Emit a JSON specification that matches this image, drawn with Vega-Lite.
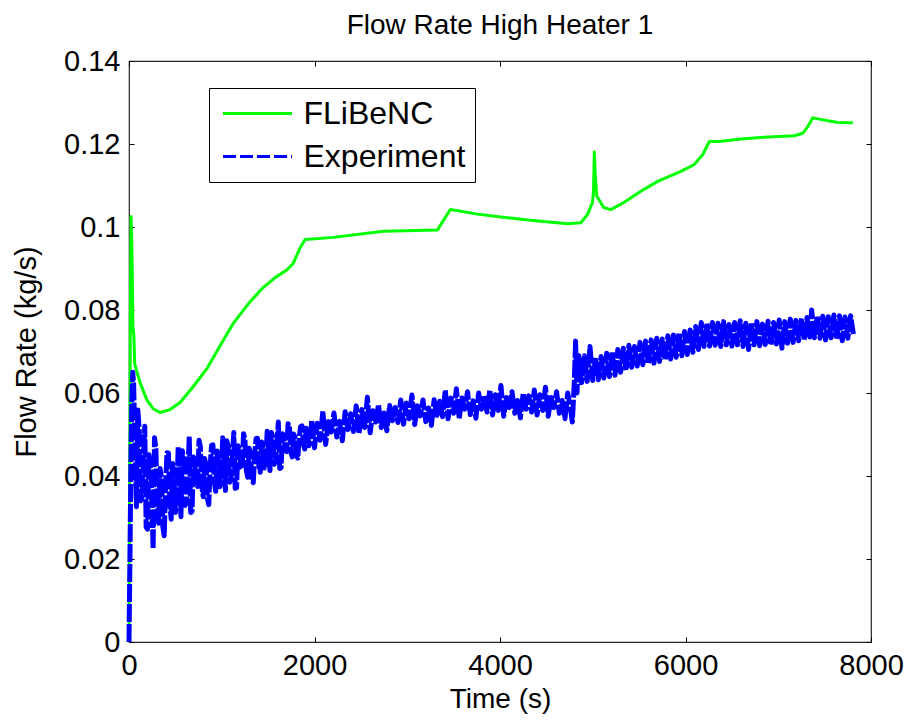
{
  "$schema": "https://vega.github.io/schema/vega-lite/v6.json",
  "width": 742,
  "height": 581,
  "autosize": {"type": "none"},
  "padding": {"left": 129, "top": 61, "right": 40, "bottom": 81},
  "background": "white",
  "title": {"text": "Flow Rate High Heater 1", "font": "Liberation Sans", "fontSize": 28, "fontWeight": "normal", "color": "black", "anchor": "middle", "baseline": "alphabetic", "offset": 23, "dy": 38},
  "config": {
    "view": {"stroke": "#262626", "strokeWidth": 1.2},
    "axis": {"labelFont": "Liberation Sans", "titleFont": "Liberation Sans", "labelColor": "black", "titleColor": "black", "tickColor": "black", "tickWidth": 1, "domain": false, "grid": false, "titleFontWeight": "normal", "labelFlush": false, "labelOverlap": false},
    "legend": {"orient": "none", "legendX": 80, "legendY": 27, "strokeColor": "black", "fillColor": "white", "padding": 9, "symbolType": "M-1,0H3.6", "symbolSize": 900, "symbolStrokeWidth": 3, "symbolOffset": 3.5, "labelOffset": 49, "rowPadding": 10, "labelFont": "Liberation Sans", "labelFontSize": 32, "labelColor": "black", "labelLimit": 400}
  },
  "resolve": {"axis": {"x": "independent", "y": "independent"}},
  "layer": [
    {
      "data": {"values": [
        {"t":0,"v":0},{"t":8,"v":0.04},{"t":15,"v":0.08},{"t":22,"v":0.1025},{"t":28,"v":0.098},{"t":35,"v":0.09},{"t":42,"v":0.076},{"t":52,"v":0.074},{"t":62,"v":0.067},{"t":80,"v":0.0655},{"t":119,"v":0.0625},{"t":191,"v":0.0584},{"t":262,"v":0.0562},{"t":335,"v":0.0553},{"t":443,"v":0.056},{"t":551,"v":0.0577},{"t":691,"v":0.0615},{"t":838,"v":0.0658},{"t":982,"v":0.0714},{"t":1122,"v":0.0767},{"t":1305,"v":0.082},{"t":1446,"v":0.0854},{"t":1575,"v":0.0878},{"t":1705,"v":0.0897},{"t":1770,"v":0.0912},{"t":1845,"v":0.095},{"t":1899,"v":0.097},{"t":2203,"v":0.0975},{"t":2743,"v":0.099},{"t":3326,"v":0.0993},{"t":3464,"v":0.1042},{"t":3575,"v":0.1038},{"t":3758,"v":0.1031},{"t":4006,"v":0.1024},{"t":4331,"v":0.1016},{"t":4727,"v":0.1008},{"t":4871,"v":0.101},{"t":4943,"v":0.103},{"t":4997,"v":0.1059},{"t":5008,"v":0.1085},{"t":5017,"v":0.1181},{"t":5028,"v":0.112},{"t":5044,"v":0.1074},{"t":5119,"v":0.1047},{"t":5195,"v":0.1042},{"t":5335,"v":0.1059},{"t":5519,"v":0.1086},{"t":5699,"v":0.111},{"t":5951,"v":0.1134},{"t":6091,"v":0.115},{"t":6185,"v":0.1174},{"t":6257,"v":0.1206},{"t":6361,"v":0.1206},{"t":6599,"v":0.1212},{"t":6847,"v":0.1216},{"t":7171,"v":0.122},{"t":7265,"v":0.1226},{"t":7319,"v":0.1242},{"t":7373,"v":0.1263},{"t":7441,"v":0.126},{"t":7535,"v":0.1256},{"t":7643,"v":0.1252},{"t":7805,"v":0.1251}
      ]},
      "mark": {"type": "line", "strokeWidth": 3, "strokeJoin": "round"},
      "encoding": {
        "x": {"field": "t", "type": "quantitative", "scale": {"domain": [0, 8000], "nice": false, "zero": false},
              "axis": {"orient": "bottom", "values": [0, 2000, 4000, 6000, 8000], "format": "d", "title": "Time (s)", "tickSize": -5, "labelPadding": 14, "titlePadding": 5, "labelFontSize": 29, "titleFontSize": 28}},
        "y": {"field": "v", "type": "quantitative", "scale": {"domain": [0, 0.14], "nice": false},
              "axis": {"orient": "left", "values": [0, 0.02, 0.04, 0.06, 0.08, 0.1, 0.12, 0.14], "format": ".2~f", "title": "Flow Rate (kg/s)", "tickSize": -5, "labelPadding": 14, "titlePadding": 22, "labelFontSize": 29, "titleFontSize": 29}},
        "color": {"datum": "FLiBeNC", "type": "nominal", "scale": {"domain": ["FLiBeNC", "Experiment"], "range": ["#00ff00", "#0000ff"]},
                  "legend": {"title": null, "encode": {"symbols": {"update": {"strokeDash": {"signal": "datum.value === 'Experiment' ? [13, 4] : [1, 0]"}}}}}}
      }
    },
    {
      "data": {"values": [
        {"t":0,"v":0},{"t":10,"v":0.02},{"t":20,"v":0.042},{"t":30,"v":0.058},{"t":40,"v":0.065},
        {"t":50,"v":0.0623},{"t":80,"v":0.0326},{"t":110,"v":0.0514},{"t":140,"v":0.0348},{"t":170,"v":0.052},{"t":200,"v":0.0272},{"t":230,"v":0.0425},{"t":260,"v":0.0225},{"t":290,"v":0.0466},{"t":320,"v":0.0286},{"t":350,"v":0.0395},{"t":380,"v":0.0256},{"t":410,"v":0.0456},{"t":440,"v":0.0331},{"t":470,"v":0.043},{"t":500,"v":0.0312},{"t":530,"v":0.047},{"t":560,"v":0.0302},{"t":590,"v":0.0442},{"t":620,"v":0.0341},{"t":650,"v":0.0495},{"t":680,"v":0.0315},{"t":710,"v":0.043},{"t":740,"v":0.0375},{"t":770,"v":0.047},{"t":800,"v":0.035},{"t":830,"v":0.0427},{"t":860,"v":0.0331},{"t":890,"v":0.0474},{"t":920,"v":0.0386},{"t":950,"v":0.046},{"t":980,"v":0.0374},{"t":1010,"v":0.0492},{"t":1040,"v":0.0365},{"t":1070,"v":0.0471},{"t":1100,"v":0.0393},{"t":1130,"v":0.0505},{"t":1160,"v":0.0372},{"t":1190,"v":0.0461},{"t":1220,"v":0.0417},{"t":1250,"v":0.0489},{"t":1280,"v":0.0397},{"t":1310,"v":0.0455},{"t":1340,"v":0.0384},{"t":1370,"v":0.049},{"t":1400,"v":0.0426},{"t":1430,"v":0.0482},{"t":1460,"v":0.0419},{"t":1490,"v":0.0508},{"t":1520,"v":0.0413},{"t":1550,"v":0.0495},{"t":1580,"v":0.0436},{"t":1610,"v":0.053},{"t":1640,"v":0.042},{"t":1670,"v":0.0493},{"t":1700,"v":0.0459},{"t":1730,"v":0.0517},{"t":1760,"v":0.0446},{"t":1790,"v":0.0493},{"t":1820,"v":0.0443},{"t":1850,"v":0.0519},{"t":1880,"v":0.0477},{"t":1910,"v":0.0515},{"t":1940,"v":0.0473},{"t":1970,"v":0.0535},{"t":2000,"v":0.0468},{"t":2030,"v":0.0527},{"t":2060,"v":0.0486},{"t":2090,"v":0.0556},{"t":2120,"v":0.0476},{"t":2150,"v":0.0531},{"t":2180,"v":0.0506},{"t":2210,"v":0.0552},{"t":2240,"v":0.0494},{"t":2270,"v":0.0532},{"t":2300,"v":0.0485},{"t":2330,"v":0.0555},{"t":2360,"v":0.0512},{"t":2390,"v":0.055},{"t":2420,"v":0.0507},{"t":2450,"v":0.0569},{"t":2480,"v":0.0502},{"t":2510,"v":0.056},{"t":2540,"v":0.0517},{"t":2570,"v":0.059},{"t":2600,"v":0.0504},{"t":2630,"v":0.0557},{"t":2660,"v":0.053},{"t":2690,"v":0.0572},{"t":2720,"v":0.0517},{"t":2750,"v":0.0552},{"t":2780,"v":0.0509},{"t":2810,"v":0.057},{"t":2840,"v":0.0533},{"t":2870,"v":0.0565},{"t":2900,"v":0.0529},{"t":2930,"v":0.0583},{"t":2960,"v":0.0525},{"t":2990,"v":0.0576},{"t":3020,"v":0.0538},{"t":3050,"v":0.0595},{"t":3080,"v":0.0524},{"t":3110,"v":0.0569},{"t":3140,"v":0.0545},{"t":3170,"v":0.0583},{"t":3200,"v":0.0531},{"t":3230,"v":0.0564},{"t":3260,"v":0.0522},{"t":3290,"v":0.0584},{"t":3320,"v":0.0546},{"t":3350,"v":0.058},{"t":3380,"v":0.0543},{"t":3410,"v":0.0607},{"t":3440,"v":0.0538},{"t":3470,"v":0.0588},{"t":3500,"v":0.0551},{"t":3530,"v":0.061},{"t":3560,"v":0.0538},{"t":3590,"v":0.0588},{"t":3620,"v":0.0561},{"t":3650,"v":0.0603},{"t":3680,"v":0.0548},{"t":3710,"v":0.0581},{"t":3740,"v":0.0539},{"t":3770,"v":0.06},{"t":3800,"v":0.0561},{"t":3830,"v":0.0593},{"t":3860,"v":0.0554},{"t":3890,"v":0.0607},{"t":3920,"v":0.0547},{"t":3950,"v":0.0596},{"t":3980,"v":0.0558},{"t":4010,"v":0.0618},{"t":4040,"v":0.0544},{"t":4070,"v":0.0589},{"t":4100,"v":0.0565},{"t":4130,"v":0.0603},{"t":4160,"v":0.0551},{"t":4190,"v":0.0582},{"t":4220,"v":0.054},{"t":4250,"v":0.06},{"t":4280,"v":0.0561},{"t":4310,"v":0.0593},{"t":4340,"v":0.0554},{"t":4370,"v":0.0607},{"t":4400,"v":0.0547},{"t":4430,"v":0.0596},{"t":4460,"v":0.0558},{"t":4490,"v":0.0614},{"t":4520,"v":0.0544},{"t":4550,"v":0.0589},{"t":4580,"v":0.0565},{"t":4610,"v":0.0603},{"t":4640,"v":0.0551},{"t":4670,"v":0.0582},{"t":4700,"v":0.0538},{"t":4730,"v":0.06},{"t":4760,"v":0.0561},{"t":4780,"v":0.053},{"t":4800,"v":0.062},{"t":4815,"v":0.0725},{"t":4830,"v":0.06},{"t":4850,"v":0.069},{"t":4880,"v":0.0625},{"t":4910,"v":0.069},{"t":4940,"v":0.0628},{"t":4970,"v":0.0712},{"t":5000,"v":0.063},{"t":5030,"v":0.0685},{"t":5060,"v":0.0632},{"t":5090,"v":0.0688},{"t":5120,"v":0.0636},{"t":5150,"v":0.0696},{"t":5180,"v":0.064},{"t":5210,"v":0.07},{"t":5240,"v":0.0643},{"t":5270,"v":0.0705},{"t":5300,"v":0.065},{"t":5330,"v":0.0708},{"t":5360,"v":0.0655},{"t":5390,"v":0.0715},{"t":5420,"v":0.0662},{"t":5450,"v":0.0712},{"t":5480,"v":0.0665},{"t":5510,"v":0.0722},{"t":5540,"v":0.0668},{"t":5570,"v":0.0725},{"t":5600,"v":0.067},{"t":5630,"v":0.0728},{"t":5660,"v":0.0672},{"t":5690,"v":0.0732},{"t":5720,"v":0.0676},{"t":5750,"v":0.073},{"t":5780,"v":0.0679},{"t":5810,"v":0.0738},{"t":5840,"v":0.0682},{"t":5870,"v":0.074},{"t":5900,"v":0.0686},{"t":5930,"v":0.0745},{"t":5960,"v":0.069},{"t":5990,"v":0.0748},{"t":6020,"v":0.0693},{"t":6050,"v":0.0752},{"t":6080,"v":0.0698},{"t":6110,"v":0.076},{"t":6140,"v":0.0705},{"t":6170,"v":0.077},{"t":6200,"v":0.0712},{"t":6230,"v":0.0768},{"t":6260,"v":0.0713},{"t":6290,"v":0.077},{"t":6320,"v":0.0715},{"t":6350,"v":0.0768},{"t":6380,"v":0.0712},{"t":6410,"v":0.0772},{"t":6440,"v":0.0716},{"t":6470,"v":0.0765},{"t":6500,"v":0.0713},{"t":6530,"v":0.077},{"t":6560,"v":0.0716},{"t":6590,"v":0.0774},{"t":6620,"v":0.0712},{"t":6650,"v":0.0768},{"t":6680,"v":0.0705},{"t":6710,"v":0.077},{"t":6740,"v":0.0716},{"t":6770,"v":0.0772},{"t":6800,"v":0.0714},{"t":6830,"v":0.0766},{"t":6860,"v":0.0717},{"t":6890,"v":0.0773},{"t":6920,"v":0.0715},{"t":6950,"v":0.077},{"t":6980,"v":0.0718},{"t":7010,"v":0.0776},{"t":7040,"v":0.0708},{"t":7070,"v":0.0772},{"t":7100,"v":0.072},{"t":7130,"v":0.0778},{"t":7160,"v":0.0722},{"t":7190,"v":0.0775},{"t":7220,"v":0.0726},{"t":7250,"v":0.078},{"t":7280,"v":0.0728},{"t":7310,"v":0.0782},{"t":7340,"v":0.0735},{"t":7360,"v":0.08},{"t":7390,"v":0.0733},{"t":7420,"v":0.0786},{"t":7450,"v":0.0732},{"t":7480,"v":0.0785},{"t":7510,"v":0.0728},{"t":7540,"v":0.0784},{"t":7570,"v":0.0733},{"t":7600,"v":0.0788},{"t":7630,"v":0.073},{"t":7660,"v":0.0786},{"t":7690,"v":0.0726},{"t":7720,"v":0.0783},{"t":7750,"v":0.0732},{"t":7780,"v":0.0786},{"t":7810,"v":0.0742},
        {"t":65,"v":0.0459},{"t":95,"v":0.0559},{"t":125,"v":0.034},{"t":155,"v":0.0444},{"t":185,"v":0.0277},{"t":215,"v":0.0451},{"t":245,"v":0.0352},{"t":275,"v":0.0492},{"t":305,"v":0.0322},{"t":335,"v":0.0418},{"t":365,"v":0.0277},{"t":395,"v":0.0385},{"t":425,"v":0.0455},{"t":455,"v":0.0296},{"t":485,"v":0.0401},{"t":515,"v":0.0345},{"t":545,"v":0.038},{"t":575,"v":0.0461},{"t":605,"v":0.0329},{"t":635,"v":0.0416},{"t":665,"v":0.0312},{"t":695,"v":0.0446},{"t":725,"v":0.0382},{"t":755,"v":0.0486},{"t":785,"v":0.0373},{"t":815,"v":0.0442},{"t":845,"v":0.0346},{"t":875,"v":0.0423},{"t":905,"v":0.0475},{"t":935,"v":0.0363},{"t":965,"v":0.0437},{"t":995,"v":0.0399},{"t":1025,"v":0.0424},{"t":1055,"v":0.0485},{"t":1085,"v":0.0385},{"t":1115,"v":0.0451},{"t":1145,"v":0.037},{"t":1175,"v":0.0473},{"t":1205,"v":0.0422},{"t":1235,"v":0.0502},{"t":1265,"v":0.0414},{"t":1295,"v":0.0467},{"t":1325,"v":0.0394},{"t":1355,"v":0.0452},{"t":1385,"v":0.0491},{"t":1415,"v":0.0409},{"t":1445,"v":0.0465},{"t":1475,"v":0.0438},{"t":1505,"v":0.0458},{"t":1535,"v":0.0505},{"t":1565,"v":0.0428},{"t":1595,"v":0.0481},{"t":1625,"v":0.0418},{"t":1655,"v":0.0502},{"t":1685,"v":0.0462},{"t":1715,"v":0.0526},{"t":1745,"v":0.0458},{"t":1775,"v":0.0501},{"t":1805,"v":0.0449},{"t":1835,"v":0.0492},{"t":1865,"v":0.0521},{"t":1895,"v":0.0465},{"t":1925,"v":0.0504},{"t":1955,"v":0.0486},{"t":1985,"v":0.0499}
      ]},
      "mark": {"type": "line", "strokeWidth": 5, "strokeJoin": "round", "strokeDash": [18, 2]},
      "encoding": {
        "x": {"field": "t", "type": "quantitative", "scale": {"domain": [0, 8000], "nice": false, "zero": false},
              "axis": {"orient": "top", "values": [0, 2000, 4000, 6000, 8000], "labels": false, "title": null, "tickSize": -5, "minExtent": 0, "maxExtent": 0}},
        "y": {"field": "v", "type": "quantitative", "scale": {"domain": [0, 0.14], "nice": false},
              "axis": {"orient": "right", "values": [0, 0.02, 0.04, 0.06, 0.08, 0.1, 0.12, 0.14], "labels": false, "title": null, "tickSize": -5, "minExtent": 0, "maxExtent": 0}},
        "color": {"datum": "Experiment", "type": "nominal", "legend": {"title": null}}
      }
    }
  ]
}
